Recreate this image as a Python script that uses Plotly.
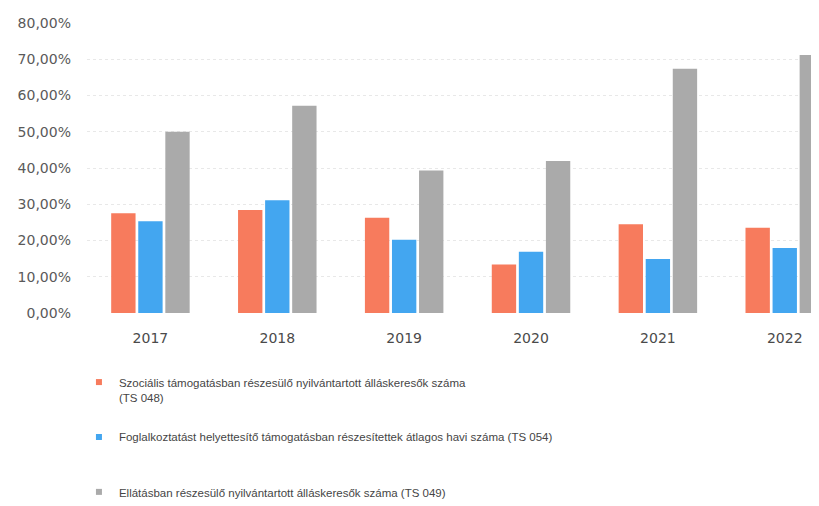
import plotly.graph_objects as go

years = ["2017", "2018", "2019", "2020", "2021", "2022"]
szocialis = [0.275, 0.284, 0.263, 0.134, 0.245, 0.235]      # TS 048
foglalkoztatast = [0.253, 0.311, 0.202, 0.169, 0.149, 0.179]  # TS 054
ellatasban = [0.500, 0.572, 0.393, 0.419, 0.674, 0.712]      # TS 049

names = [
    "Szociális támogatásban részesülő nyilvántartott álláskeresők száma<br>(TS 048)",
    "Foglalkoztatást helyettesítő támogatásban részesítettek átlagos havi száma (TS 054)<br>\u00a0",
    "Ellátásban részesülő nyilvántartott álláskeresők száma (TS 049)",
]
colors = ["#F77B5D", "#43A6F0", "#AAAAAA"]
series = [szocialis, foglalkoztatast, ellatasban]

fig = go.Figure()
for vals, col, nm in zip(series, colors, names):
    fig.add_trace(go.Bar(x=years, y=vals, marker_color=col, marker_line_width=0,
                         showlegend=False, name=nm))
for i, (col, nm) in enumerate(zip(colors, names)):
    fig.add_trace(go.Scatter(x=[None], y=[None], mode="markers",
                             marker=dict(symbol="square", size=6, color=col),
                             name=nm, legendgroup=f"g{i}", showlegend=True))

fig.update_layout(
    width=811, height=498,
    margin=dict(l=79, r=0, t=15, b=193, autoexpand=False),
    paper_bgcolor="white", plot_bgcolor="white",
    barmode="group", bargap=0.36, bargroupgap=0.1,
    font=dict(family="DejaVu Sans", color="#555555"),
    xaxis=dict(range=[-0.5, 5.27], showgrid=False, zeroline=False, showline=False,
               automargin=False,
               ticks="", tickfont=dict(size=14, color="#4a4a4a"), ticklabelstandoff=15),
    yaxis=dict(range=[0, 0.8], dtick=0.1, tickformat=".2%", automargin=False,
               showgrid=True, gridcolor="#e8e8e8", griddash="dot", gridwidth=1,
               zeroline=False, showline=False, ticks="",
               tickfont=dict(size=14, color="#5a5a5a"), ticklabelstandoff=15),
    separators=",.",
    legend=dict(orientation="v", x=-0.011, xanchor="left", y=-0.19, yanchor="top",
                font=dict(family="Liberation Sans", size=11.5, color="#454545"),
                valign="top", tracegroupgap=22, itemwidth=30,
                bgcolor="rgba(0,0,0,0)"),
)

fig.write_html("out.html")
